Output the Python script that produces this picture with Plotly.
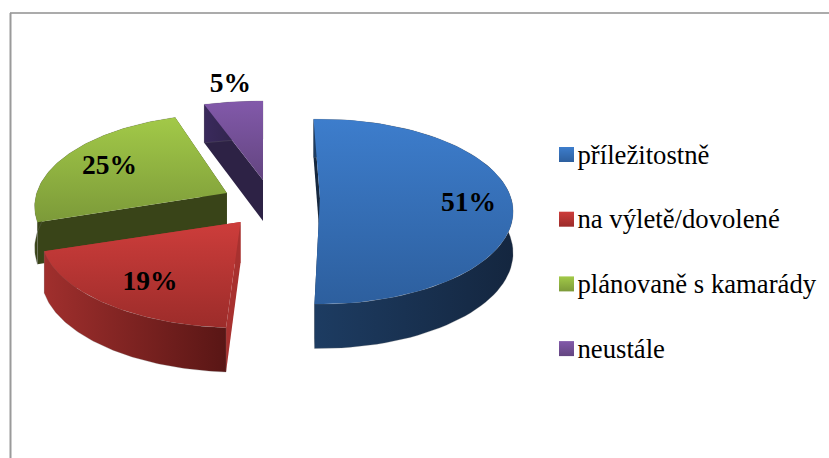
import numpy as np
import plotly.graph_objects as go

CATEGORIES = ["příležitostně", "na výletě/dovolené", "plánovaně s kamarády", "neustále"]
VALUES = [51, 19, 25, 5]

# style of each slice: explosion, small corrections of the reference's 3D look, label placing, colours
EXPLODE = [0.25, 0.25, 0.25, 0.25]
NUDGE_Y = [-4, 1.8, 1, 0]
ROTATE_DEG = [-2.2, 0, 0, 0]
SCALE_X = [0.97, 1, 0.965, 1.1]
LABEL_RADIUS = [0.755, 0.69, 0.70, 1.25]
LABEL_NUDGE_Y = [6, 8, 2, 0]
TOP_COLORS = [("#3d7dcc", "#2d5f9e"), ("#cd3d3b", "#9c2c2a"), ("#a2c948", "#7c9a39"), ("#8259aa", "#634580")]
WALL_COLORS = [("#1d3c62", "#14263f"), ("#a02f2d", "#591615"), ("#3b4619", "#333d15"), ("#3a2a5c", "#2a2040")]
FACE_COLORS = ["#16283f", "#a8312f", "#394418", "#2d2245"]
DRAW_ORDER = [3, 2, 0, 1]

FONT = "Liberation Serif"
W, H = 829, 458
CX, CY = 270.7, 202.3
RX, RY = 197, 90.5
PERSPECTIVE = 0.146
DEPTH = 41
LEGEND_X = 566.5
LEGEND_Y = 154.5
LEGEND_STEP = 64.7
LEGEND_TEXT_DX = 11
LEGEND_TEXT_DY = 2.5


def rim(ox, oy, a, r=1.0, rx=RX):
    # point on a slice's ellipse; nearer points are drawn larger
    s = 1 / (1 + PERSPECTIVE * r * np.cos(a))
    x = ox + r * np.sin(a) * rx * s
    y = oy - r * np.cos(a) * RY * s
    return x, y, y + DEPTH * np.sqrt(s)


def polygon(x, y, colors, kind, line=None):
    # the y axis is reversed, so a vertical gradient has to be listed bottom first
    scale = [[0, colors[1]], [1, colors[0]]] if kind == "vertical" else [[0, colors[0]], [1, colors[1]]]
    return go.Scatter(
        x=list(x) + [x[0]],
        y=list(y) + [y[0]],
        mode="lines",
        fill="toself",
        fillgradient=dict(type=kind, colorscale=scale),
        line=dict(width=1 if line else 0, color=line or "rgba(0,0,0,0)"),
        hoverinfo="skip",
        showlegend=False,
    )


edges = np.cumsum([0] + VALUES) / sum(VALUES) * 2 * np.pi
fig = go.Figure()
label_x, label_y = [None] * 4, [None] * 4

for i in DRAW_ORDER:
    turn = np.radians(ROTATE_DEG[i])
    a0, a1 = edges[i] + turn, edges[i + 1] + turn
    mid = (a0 + a1) / 2
    ox = CX + EXPLODE[i] * np.sin(mid) * RX
    oy = CY - EXPLODE[i] * np.cos(mid) * RY + NUDGE_Y[i]
    ob = oy + DEPTH
    ax, ay, ab = rim(ox, oy, np.linspace(a0, a1, 80), rx=RX * SCALE_X[i])

    # the two straight cut faces, then the outer wall, then the top
    face = (FACE_COLORS[i], FACE_COLORS[i])
    fig.add_trace(polygon([ox, ax[0], ax[0], ox], [oy, ay[0], ab[0], ob], face, "horizontal"))
    fig.add_trace(polygon([ox, ax[-1], ax[-1], ox], [oy, ay[-1], ab[-1], ob], face, "horizontal"))
    fig.add_trace(polygon(np.r_[ax, ax[::-1]], np.r_[ay, ab[::-1]], WALL_COLORS[i], "horizontal",
                          line="rgba(120,120,120,0.25)"))
    fig.add_trace(polygon(np.r_[ox, ax], np.r_[oy, ay], TOP_COLORS[i], "vertical"))

    label_x[i], label_y[i], _ = rim(ox, oy, mid, LABEL_RADIUS[i])
    label_y[i] += LABEL_NUDGE_Y[i]

fig.add_trace(go.Scatter(
    x=label_x,
    y=label_y,
    mode="text",
    text=[f"{v}%" for v in VALUES],
    textfont=dict(family=FONT, size=27.5, color="#000000", weight="bold"),
    hoverinfo="skip",
    showlegend=False,
))

# legend, drawn by hand because the native one keeps too wide a gap before the text
legend_y = [LEGEND_Y + LEGEND_STEP * i for i in range(len(CATEGORIES))]
fig.add_trace(go.Scatter(
    x=[LEGEND_X] * len(CATEGORIES),
    y=legend_y,
    mode="markers",
    marker=dict(
        symbol="square",
        size=15,
        color=[c[0] for c in TOP_COLORS],
        gradient=dict(type="vertical", color=[c[1] for c in TOP_COLORS]),
        line=dict(width=0),
    ),
    hoverinfo="skip",
    showlegend=False,
))
fig.add_trace(go.Scatter(
    x=[LEGEND_X + LEGEND_TEXT_DX] * len(CATEGORIES),
    y=[y + LEGEND_TEXT_DY for y in legend_y],
    mode="text",
    text=CATEGORIES,
    textposition="middle right",
    textfont=dict(family=FONT, size=26.7, color="#000000"),
    hoverinfo="skip",
    showlegend=False,
))

fig.update_layout(
    width=W,
    height=H,
    margin=dict(l=0, r=0, t=0, b=0),
    paper_bgcolor="#ffffff",
    plot_bgcolor="#ffffff",
    showlegend=False,
    xaxis=dict(range=[0, W], visible=False, fixedrange=True),
    yaxis=dict(range=[H, 0], visible=False, fixedrange=True),
    shapes=[
        dict(type="line", x0=10, x1=W, y0=13, y1=13, line=dict(color="#8f8f8f", width=1.5)),
        dict(type="line", x0=10.5, x1=10.5, y0=13, y1=H, line=dict(color="#9a9a9a", width=2)),
    ],
)

fig.write_html(
    "out.html",
    config=dict(displayModeBar=False),
    post_script="document.body.style.margin = '0'; document.body.style.overflow = 'hidden';",
)
